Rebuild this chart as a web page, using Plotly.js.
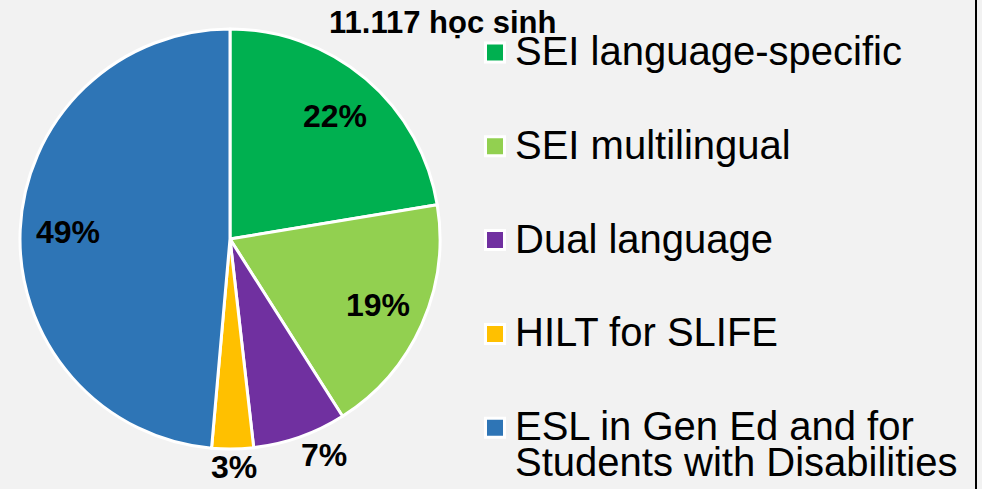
<!DOCTYPE html>
<html>
<head>
<meta charset="utf-8">
<script src="https://cdn.plot.ly/plotly-3.0.1.min.js"></script>
<style>html,body{margin:0;padding:0;background:#F2F2F2;}#chart{width:982px;height:489px;}</style>
</head>
<body>
<div id="chart"></div>
<script>
// Data
const categories = ["SEI language-specific", "SEI multilingual", "Dual language", "HILT for SLIFE", "ESL in Gen Ed and for<br>Students with Disabilities"];
const shares = [22.4, 18.6, 7.2, 3.2, 48.6];
const colors = ["#00B050", "#92D050", "#7030A0", "#FFC000", "#2E75B6"];
const labelPlacement = ["inside", "inside", "outside", "outside", "inside"];
const chartTitle = "11.117 học sinh";

const W = 982, H = 489;
const px = x => x / W;
const py = y => 1 - y / H;

// pie geometry (pixels)
const cx = 230, cy = 239, R = 210;
const FONT = "Liberation Sans, Arial, sans-serif";

const trace = {
  type: "pie",
  labels: categories,
  values: shares,
  sort: false,
  direction: "clockwise",
  rotation: 0,
  marker: {colors: colors, line: {color: "#FFFFFF", width: 3}},
  textinfo: "none",
  hoverinfo: "label+percent",
  showlegend: false,
  automargin: false,
  domain: {x: [px(cx - R), px(cx + R)], y: [py(cy + R), py(cy - R)]}
};

const annotations = [{
  text: "<b>" + chartTitle + "</b>",
  xref: "paper", yref: "paper", x: px(442), y: py(22),
  xanchor: "center", yanchor: "middle", showarrow: false,
  font: {family: FONT, size: 31, color: "#000000"}
}];

// data labels, placed at each slice's mid-angle (derived from the shares)
const total = shares.reduce((a, b) => a + b, 0);
const LBL = 32;
let cum = 0;
shares.forEach((v, i) => {
  const mid = (cum + v / 2) / total * 2 * Math.PI;
  cum += v;
  const ux = Math.sin(mid), uy = -Math.cos(mid);
  const txt = Math.round(v / total * 100) + "%";
  let x, y;
  if (labelPlacement[i] === "inside") {
    x = cx + 0.77 * R * ux;
    y = cy + 0.77 * R * uy;
  } else {
    const hw = 0.36 * LBL * txt.length, hh = 0.5 * LBL, g = 2;
    const k = Math.max(-1, Math.min(1, ux * 3));
    x = cx + R * ux + g * ux + hw * k;
    y = cy + R * uy + g * uy + hh * Math.sign(uy);
  }
  annotations.push({
    text: "<b>" + txt + "</b>", xref: "paper", yref: "paper",
    x: px(x), y: py(y), xanchor: "center", yanchor: "middle", showarrow: false,
    font: {family: FONT, size: LBL, color: "#000000"}
  });
});

// manual legend
const legendTop = 51, legendStep = 93.8, lineStep = 36;
const shapes = [{
  type: "line", xref: "paper", yref: "paper",
  x0: px(976), x1: px(976), y0: 0, y1: 1,
  line: {color: "#000000", width: 2}
}];
categories.forEach((c, i) => {
  const yc = legendTop + i * legendStep;
  const ys = yc + 1.5;
  shapes.push({
    type: "rect", xref: "paper", yref: "paper",
    x0: px(485.5), x1: px(504.5), y0: py(ys + 9.5), y1: py(ys - 9.5),
    fillcolor: colors[i], line: {color: "#FFFFFF", width: 3}
  });
  c.split("<br>").forEach((ln, j) => {
    annotations.push({
      text: ln, xref: "paper", yref: "paper",
      x: px(513), y: py(yc + j * lineStep),
      xanchor: "left", yanchor: "middle", showarrow: false,
      font: {family: FONT, size: 40, color: "#000000"}
    });
  });
});

const layout = {
  width: W, height: H,
  margin: {l: 0, r: 0, t: 0, b: 0},
  paper_bgcolor: "#F2F2F2",
  plot_bgcolor: "#F2F2F2",
  showlegend: false,
  annotations: annotations,
  shapes: shapes
};

Plotly.newPlot("chart", [trace], layout, {displayModeBar: false, staticPlot: true});
</script>
</body>
</html>
